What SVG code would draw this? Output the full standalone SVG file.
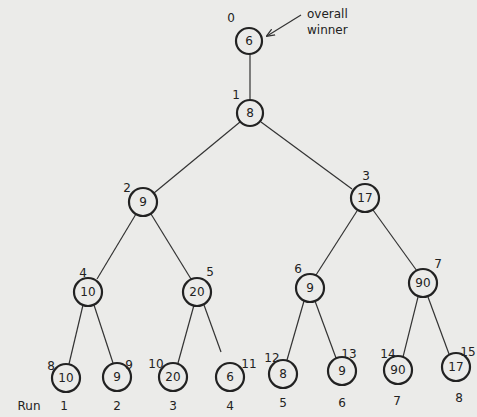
<svg xmlns="http://www.w3.org/2000/svg" width="477" height="417" viewBox="0 0 477 417">
<defs>
<style>
.bg{fill:#ebebe9}
.n circle{fill:none;stroke:#222;stroke-width:2.2}
.n text,.lbl{font-family:"DejaVu Sans",sans-serif;font-size:12px;fill:#222;text-anchor:middle}
.n text{dominant-baseline:central}
.idx{font-family:"DejaVu Sans",sans-serif;font-size:11px;fill:#222;text-anchor:middle}
.e line{stroke:#333;stroke-width:1.2}
</style>
<marker id="ah" viewBox="0 0 10 10" refX="9" refY="5" markerWidth="7" markerHeight="7" orient="auto">
<path d="M0,1 L10,5 L0,9" fill="none" stroke="#333" stroke-width="1.5"/>
</marker>
</defs>
<rect class="bg" x="0" y="0" width="477" height="417"/>
<g id="connectors" class="e">
<line x1="250" y1="54" x2="250" y2="100"/>
<line x1="240" y1="122" x2="154" y2="193"/>
<line x1="261" y1="122" x2="352" y2="189"/>
<line x1="136" y1="214" x2="97" y2="279"/>
<line x1="151" y1="214" x2="191" y2="279"/>
<line x1="357" y1="211" x2="316" y2="275"/>
<line x1="373" y1="210" x2="417" y2="271"/>
<line x1="83" y1="305" x2="69" y2="364"/>
<line x1="94" y1="305" x2="113" y2="363"/>
<line x1="194" y1="305" x2="178" y2="363"/>
<line x1="204" y1="305" x2="221" y2="352"/>
<line x1="304" y1="301" x2="287" y2="360"/>
<line x1="315" y1="301" x2="336" y2="358"/>
<line x1="418" y1="297" x2="403" y2="357"/>
<line x1="428" y1="297" x2="449" y2="354"/>
<line x1="301" y1="15" x2="267" y2="36" marker-end="url(#ah)"/>
</g>
<g id="annotation">
<text class="lbl" x="307" y="18" style="text-anchor:start">overall</text>
<text class="lbl" x="307" y="34" style="text-anchor:start">winner</text>
</g>
<g id="node0" class="n"><circle cx="249" cy="41" r="13"/><text x="249" y="41">6</text><text class="idx" x="231" y="18">0</text></g>
<g id="node1" class="n"><circle cx="250" cy="113" r="13"/><text x="250" y="113">8</text><text class="idx" x="236" y="95">1</text></g>
<g id="node2" class="n"><circle cx="143" cy="202" r="14"/><text x="143" y="202">9</text><text class="idx" x="127" y="188">2</text></g>
<g id="node3" class="n"><circle cx="365" cy="198" r="14"/><text x="365" y="198">17</text><text class="idx" x="366" y="176">3</text></g>
<g id="node4" class="n"><circle cx="88" cy="292" r="14"/><text x="88" y="292">10</text><text class="idx" x="83" y="273">4</text></g>
<g id="node5" class="n"><circle cx="197" cy="292" r="14"/><text x="197" y="292">20</text><text class="idx" x="210" y="272">5</text></g>
<g id="node6" class="n"><circle cx="310" cy="288" r="14"/><text x="310" y="288">9</text><text class="idx" x="298" y="269">6</text></g>
<g id="node7" class="n"><circle cx="423" cy="283" r="14"/><text x="423" y="283">90</text><text class="idx" x="438" y="264">7</text></g>
<g id="node8" class="n"><circle cx="66" cy="378" r="14"/><text x="66" y="378">10</text><text class="idx" x="51" y="366">8</text></g>
<g id="node9" class="n"><circle cx="117" cy="377" r="14"/><text x="117" y="377">9</text><text class="idx" x="129" y="365">9</text></g>
<g id="node10" class="n"><circle cx="173" cy="377" r="14"/><text x="173" y="377">20</text><text class="idx" x="156" y="364">10</text></g>
<g id="node11" class="n"><circle cx="230" cy="377" r="14"/><text x="230" y="377">6</text><text class="idx" x="249" y="364">11</text></g>
<g id="node12" class="n"><circle cx="283" cy="374" r="14"/><text x="283" y="374">8</text><text class="idx" x="272" y="358">12</text></g>
<g id="node13" class="n"><circle cx="342" cy="371" r="14"/><text x="342" y="371">9</text><text class="idx" x="349" y="354">13</text></g>
<g id="node14" class="n"><circle cx="398" cy="370" r="14"/><text x="398" y="370">90</text><text class="idx" x="388" y="354">14</text></g>
<g id="node15" class="n"><circle cx="456" cy="367" r="14"/><text x="456" y="367">17</text><text class="idx" x="468" y="352">15</text></g>
<g id="runs">
<text class="lbl" x="29" y="410">Run</text>
<text class="lbl" x="64" y="410">1</text>
<text class="lbl" x="117" y="410">2</text>
<text class="lbl" x="173" y="410">3</text>
<text class="lbl" x="230" y="410">4</text>
<text class="lbl" x="283" y="407">5</text>
<text class="lbl" x="342" y="407">6</text>
<text class="lbl" x="397" y="405">7</text>
<text class="lbl" x="459" y="402">8</text>
</g>
</svg>
